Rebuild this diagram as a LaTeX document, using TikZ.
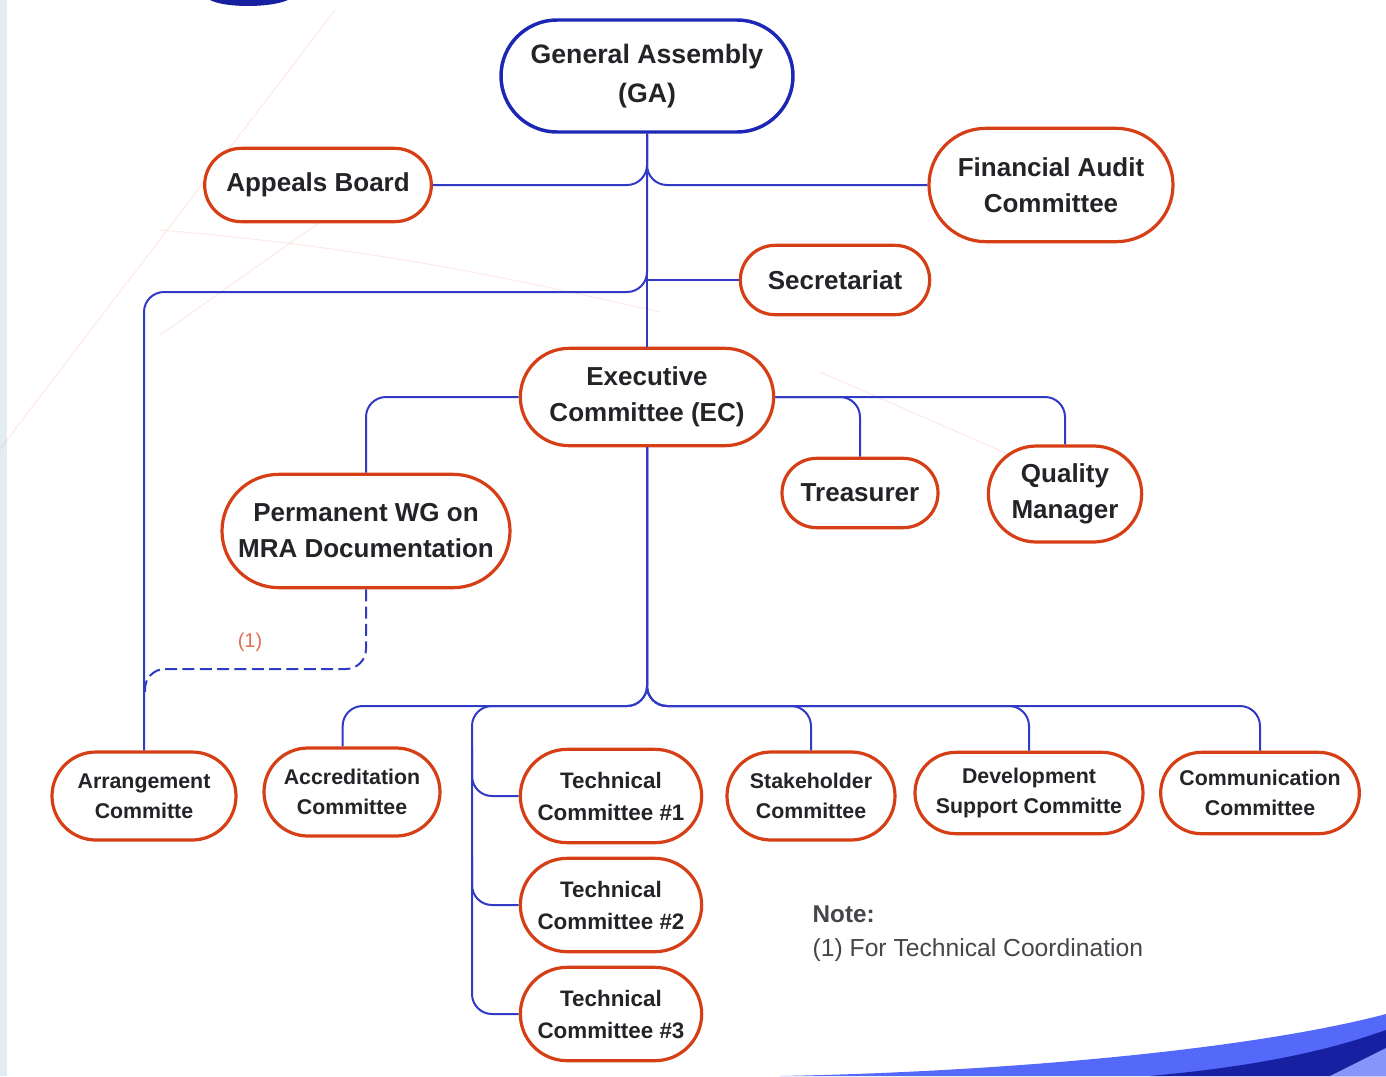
\documentclass[tikz,border=0pt]{standalone}
\usepackage{fontspec}
\setmainfont{Liberation Sans}
\usetikzlibrary{shapes.misc}
\definecolor{boxred}{RGB}{214,62,22}
\definecolor{boxblue}{RGB}{28,40,180}
\definecolor{linkblue}{RGB}{48,58,196}
\definecolor{txtgray}{RGB}{36,36,40}
\definecolor{notegray}{RGB}{70,70,74}
\definecolor{swooshlight}{RGB}{84,104,250}
\definecolor{swooshdark}{RGB}{22,32,160}
\definecolor{edgeblue}{RGB}{226,236,242}
\tikzset{
  unit/.style={rounded rectangle, draw=boxred, line width=2.4pt, fill=white, text=txtgray,
    align=center, inner sep=2pt, font=\bfseries\fontsize{19.5}{27}\selectfont},
  subunit/.style={unit, font=\bfseries\fontsize{16}{22.5}\selectfont},
  tcunit/.style={unit, font=\bfseries\fontsize{16.8}{24}\selectfont,
    minimum width=140pt, minimum height=70pt},
  link/.style={draw=linkblue, line width=1.5pt, rounded corners=15pt},
}
\begin{document}
\begin{tikzpicture}[x=0.75pt,y=0.75pt,yscale=-1,xscale=1]
    \useasboundingbox (0,0) rectangle (1386,1076);
    % slide background
    \begin{scope}
        \clip (0,0) rectangle (1386,1076);
        \fill [edgeblue] (0,0) rectangle (7,1076);
        \draw [red!60, opacity=0.15, line width=0.8pt] (335,10) -- (0,449);
        \draw [red!60, opacity=0.15, line width=0.8pt] (330,215) -- (160,335);
        \draw [red!60, opacity=0.15, line width=0.8pt] (160,230) .. controls (400,250) and (560,290) .. (660,312);
        \draw [red!60, opacity=0.15, line width=0.8pt] (820,372) -- (1040,468);
        \fill [swooshdark] (210,0) .. controls (225,8) and (270,8) .. (288,0) -- cycle;
        \fill [swooshlight] (780,1076) .. controls (1000,1072) and (1250,1050) .. (1386,1014) -- (1386,1076) -- cycle;
        \fill [swooshdark] (1150,1076) .. controls (1260,1066) and (1330,1050) .. (1386,1030) -- (1386,1076) -- cycle;
        \fill [swooshlight!70!white] (1330,1076) .. controls (1350,1066) and (1370,1056) .. (1386,1048) -- (1386,1076) -- cycle;
    \end{scope}

    % units
    \node (ga) at (647,76) [unit, draw=boxblue, line width=2.6pt, font=\bfseries\fontsize{20}{29}\selectfont,
        minimum width=223pt, minimum height=84pt] {General Assembly\\(GA)};
    \node (appeals) at (318,185) [unit, minimum width=174pt, minimum height=55pt] {Appeals Board};
    \node (fac) at (1051,185) [unit, minimum width=187pt, minimum height=85pt] {Financial Audit\\Committee};
    \node (sec) at (835,280) [unit, minimum width=146pt, minimum height=52pt] {Secretariat};
    \node (ec) at (647,397) [unit, minimum width=194pt, minimum height=73pt] {Executive\\Committee (EC)};
    \node (treas) at (860,493) [unit, minimum width=121pt, minimum height=52pt] {Treasurer};
    \node (qm) at (1065,494) [unit, minimum width=119pt, minimum height=72pt] {Quality\\Manager};
    \node (wg) at (366,531) [unit, minimum width=220pt, minimum height=85pt] {Permanent WG on\\MRA Documentation};
    \node (arr) at (144,796) [subunit, minimum width=142pt, minimum height=66pt] {Arrangement\\Committe};
    \node (acc) at (352,792) [subunit, minimum width=136pt, minimum height=66pt] {Accreditation\\Committee};
    \node (tc1) at (611,796) [tcunit] {Technical\\Committee \#1};
    \node (tc2) at (611,905) [tcunit] {Technical\\Committee \#2};
    \node (tc3) at (611,1014) [tcunit] {Technical\\Committee \#3};
    \node (stake) at (811,796) [subunit, minimum width=130pt, minimum height=66pt] {Stakeholder\\Committee};
    \node (dev) at (1029,793) [subunit, minimum width=175pt, minimum height=61pt] {Development\\Support Committe};
    \node (comm) at (1260,793) [subunit, minimum width=153pt, minimum height=61pt] {Communication\\Committee};

    % bus points
    \coordinate (gabus) at (647,292);
    \coordinate (ecbus) at (647,706);
    \coordinate (tcbus) at (472,706);
    \coordinate (tclink) at (145,669);

    % links from the GA
    \draw [link] (ga.south) -- (ec.north);
    \draw [link] (ga.south) |- (appeals.east);
    \draw [link] (ga.south) |- (fac.west);
    \draw [link] (ga.south) -- (gabus) -| (arr.north);
    \draw [link] (ga.south |- sec.west) -- (sec.west);

    % links from the EC
    \draw [link] (ec.west) -| (wg.north);
    \draw [link] (ec.east) -| (treas.north);
    \draw [link] (ec.east) -| (qm.north);
    \draw [link] (ec.south) -- (ecbus) -| ([xshift=-7pt]acc.north);
    \draw [link] (ec.south) -- (ecbus) -| (stake.north);
    \draw [link] (ec.south) -- (ecbus) -| (dev.north);
    \draw [link] (ec.south) -- (ecbus) -| (comm.north);
    \draw [link] (ec.south) -- (ecbus) -- (tcbus) |- (tc3.west);
    \draw [link] (tcbus |- tc1.north) |- (tc1.west);
    \draw [link] (tcbus |- tc2.north) |- (tc2.west);

    % technical coordination
    \draw [link, dash pattern=on 9pt off 4pt] (wg.south) |- (tclink) -- ++(0,28);
    \node (fnmark) at (250,642) [text=boxred!75!white, font=\fontsize{15}{18}\selectfont] {(1)};

    % note
    \node (note) at (808,914) [anchor=west, text=notegray, font=\bfseries\fontsize{18.2}{22}\selectfont] {Note:};
    \node (notetxt) at (808,950) [anchor=west, text=notegray, font=\fontsize{18.5}{22}\selectfont] {(1) For Technical Coordination};
\end{tikzpicture}
\end{document}
